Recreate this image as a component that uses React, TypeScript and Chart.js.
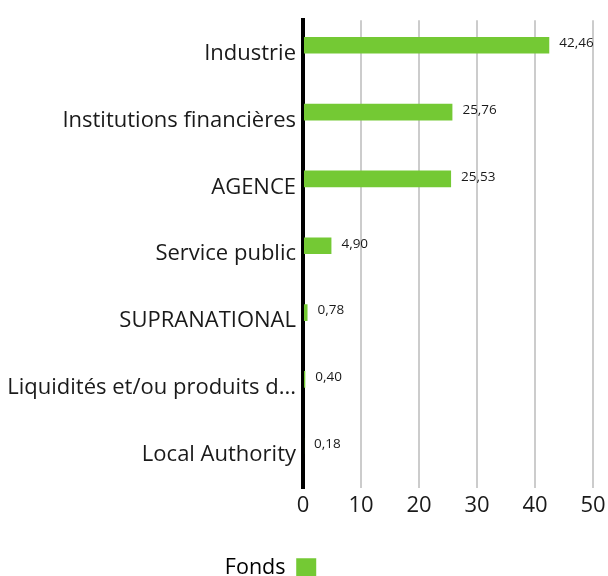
import React, { useEffect, useRef } from "react";
import { Chart, registerables } from "chart.js";

Chart.register(...registerables);

const categories: string[] = [
  "Industrie",
  "Institutions financières",
  "AGENCE",
  "Service public",
  "SUPRANATIONAL",
  "Liquidités et/ou produits d...",
  "Local Authority",
];
const fondsValues: number[] = [42.46, 25.76, 25.53, 4.9, 0.78, 0.4, 0.18];
const benchmarkValues: (number | null)[] = [null, null, null, null, null, null, null];
const xTicks: number[] = [0, 10, 20, 30, 40, 50];

const seriesNames = { fonds: "Fonds", benchmark: "Indice" };
const GREEN = "#74c934";
const FONT = "'Open Sans', 'Noto Sans', sans-serif";

const valueLabels = {
  id: "valueLabels",
  afterDatasetsDraw(chart: any) {
    const ctx = chart.ctx;
    const meta = chart.getDatasetMeta(0);
    ctx.save();
    ctx.font = `13.5px ${FONT}`;
    ctx.fillStyle = "#1a1a1a";
    ctx.textAlign = "left";
    ctx.textBaseline = "middle";
    meta.data.forEach((el: any, i: number) => {
      const v = fondsValues[i];
      ctx.fillText(v.toFixed(2).replace(".", ","), el.x + 10, el.y - 2);
    });
    ctx.restore();
  },
};

export default function App() {
  const ref = useRef<HTMLCanvasElement | null>(null);

  useEffect(() => {
    if (!ref.current) return;
    const chart = new Chart(ref.current, {
      type: "bar",
      data: {
        labels: categories,
        datasets: [
          {
            label: seriesNames.fonds,
            data: fondsValues,
            backgroundColor: GREEN,
            borderWidth: 0,
            categoryPercentage: 0.5,
            barPercentage: 1.0,
          },
          {
            label: seriesNames.benchmark,
            data: benchmarkValues as any,
            backgroundColor: "#999999",
            borderWidth: 0,
            categoryPercentage: 0.5,
            barPercentage: 1.0,
          },
        ],
      },
      options: {
        indexAxis: "y",
        responsive: false,
        animation: false,
        layout: { padding: { top: 19, right: 15, left: 0, bottom: 3 } },
        scales: {
          x: {
            min: xTicks[0],
            max: xTicks[xTicks.length - 1],
            afterBuildTicks: (scale: any) => {
              scale.ticks = xTicks.map((v) => ({ value: v }));
            },
            afterFit: (scale: any) => {
              scale.height = 59.5;
              scale.paddingRight = 0;
              scale.paddingLeft = 0;
            },
            grid: { color: "#cccccc", lineWidth: 2, drawTicks: false },
            border: { display: false },
            ticks: {
              color: "#1a1a1a",
              padding: 5,
              font: { family: FONT, size: 22 },
            },
          },
          y: {
            afterFit: (scale: any) => {
              scale.width = 303;
            },
            grid: { display: true, color: "transparent", drawTicks: false },
            border: { display: true, color: "#000000", width: 4 },
            ticks: {
              color: "#1a1a1a",
              padding: 7,
              font: { family: FONT, size: 22 },
            },
          },
        },
        plugins: {
          tooltip: { enabled: false },
          legend: {
            position: "bottom",
            rtl: true,
            labels: {
              boxWidth: 20,
              boxHeight: 20,
              color: "#1a1a1a",
              font: { family: FONT, size: 21.5 },
              generateLabels: () => [
                {
                  text: "  ",
                  fillStyle: "transparent",
                  strokeStyle: "transparent",
                  lineWidth: 0,
                  hidden: false,
                  datasetIndex: 1,
                },
                {
                  text: seriesNames.fonds,
                  fillStyle: GREEN,
                  strokeStyle: GREEN,
                  lineWidth: 0,
                  hidden: false,
                  datasetIndex: 0,
                },
              ],
            },
          },
        },
      },
      plugins: [valueLabels],
    });
    return () => chart.destroy();
  }, []);

  return (
    <div
      style={{
        position: "absolute",
        left: 0,
        top: 0,
        width: 608,
        height: 576,
        overflow: "hidden",
        background: "#ffffff",
      }}
    >
      <canvas ref={ref} width={608} height={592} style={{ display: "block" }} />
    </div>
  );
}
